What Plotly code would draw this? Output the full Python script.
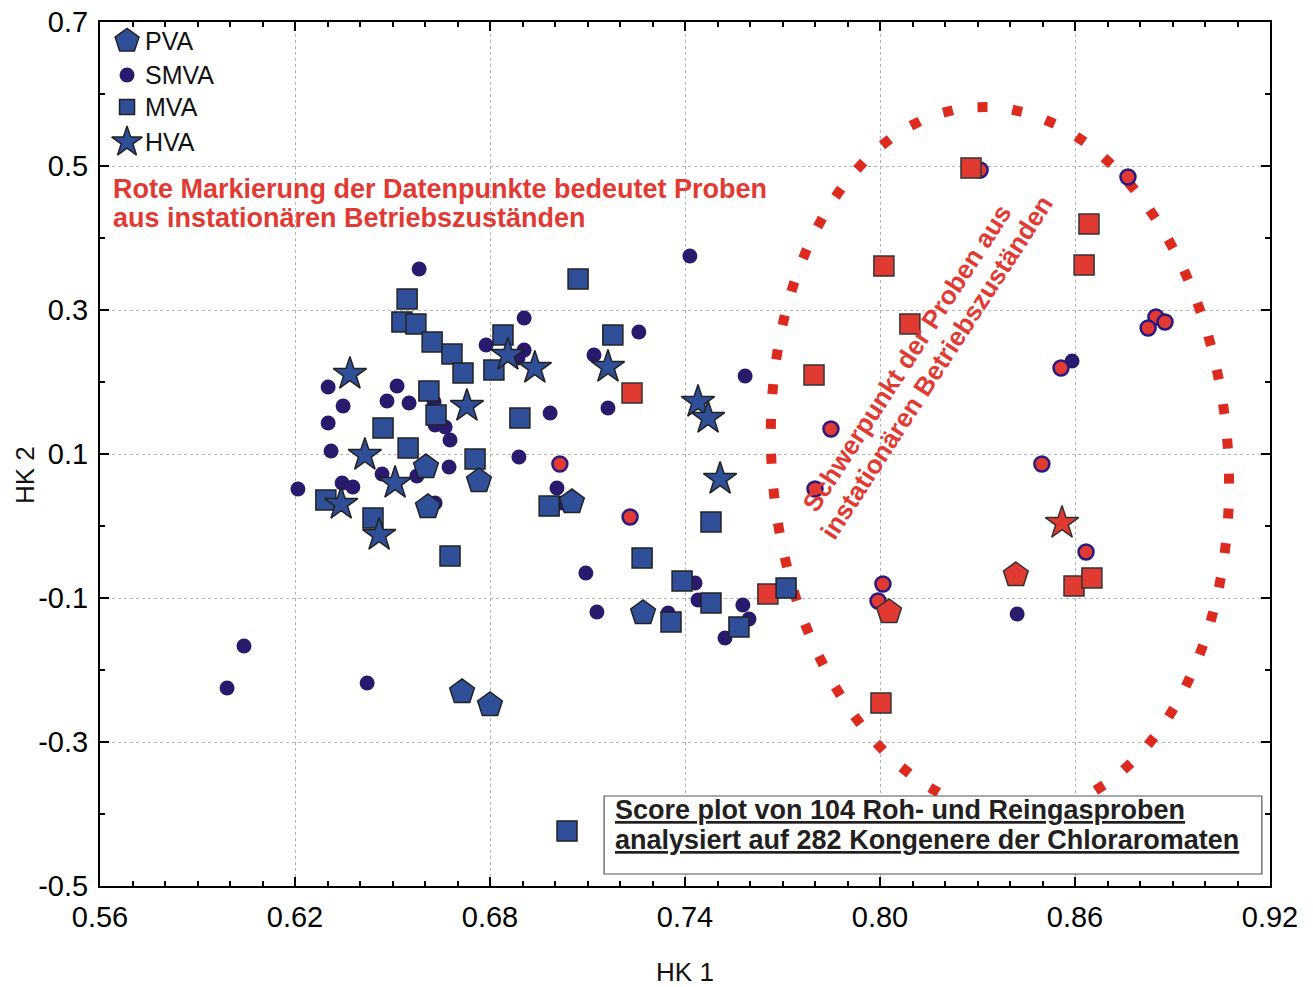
import numpy as np
import plotly.graph_objects as go

# ---------------- data (HK 1, HK 2) ----------------
smva_x = [0.6582, 0.6905, 0.6788, 0.6905, 0.6886, 0.6302, 0.6514, 0.6348, 0.6483, 0.6551,
          0.6302, 0.6628, 0.6631, 0.6662, 0.6677, 0.6311, 0.6889, 0.6985, 0.6674, 0.6468,
          0.6575, 0.6345, 0.6378, 0.6209, 0.6631, 0.7006, 0.7022, 0.7415, 0.7258, 0.7120,
          0.7585, 0.7163, 0.7095, 0.7431, 0.7440, 0.7129, 0.7348, 0.7578, 0.7597, 0.7523,
          0.6043, 0.5991, 0.6422, 0.8591, 0.8422]
smva_y = [0.3569, 0.2889, 0.2514, 0.2444, 0.2333, 0.1931, 0.1944, 0.1667, 0.1736, 0.1708,
          0.1431, 0.1722, 0.1403, 0.1375, 0.1194, 0.1042, 0.0958, 0.1569, 0.0819, 0.0722,
          0.0694, 0.0597, 0.0542, 0.0514, 0.0319, 0.0528, 0.0319, 0.3750, 0.2694, 0.2375,
          0.2083, 0.1639, -0.0653, -0.0792, -0.1028, -0.1194, -0.1208, -0.1097, -0.1292, -0.1556,
          -0.1667, -0.2250, -0.2181, 0.2292, -0.1222]
smva_red_x = [0.8308, 0.8763, 0.8849, 0.8877, 0.8825, 0.8557, 0.7849, 0.8498, 0.7800, 0.7015,
              0.7231, 0.8634, 0.8009, 0.7994]
smva_red_y = [0.4944, 0.4847, 0.2903, 0.2833, 0.2750, 0.2194, 0.1347, 0.0861, 0.0514, 0.0861,
              0.0125, -0.0361, -0.0806, -0.1042]

mva_x = [0.6545, 0.6529, 0.6572, 0.6622, 0.6683, 0.6717, 0.6840, 0.6812, 0.6612, 0.6634,
         0.6471, 0.6548, 0.6754, 0.6892, 0.7071, 0.6295, 0.6440, 0.6677, 0.6982, 0.7178,
         0.7480, 0.7268, 0.7391, 0.7480, 0.7357, 0.7566, 0.7711, 0.7037]
mva_y = [0.3153, 0.2833, 0.2806, 0.2556, 0.2389, 0.2125, 0.2653, 0.2167, 0.1875, 0.1542,
         0.1361, 0.1083, 0.0931, 0.1500, 0.3431, 0.0361, 0.0111, -0.0417, 0.0278, 0.2653,
         0.0056, -0.0444, -0.0764, -0.1069, -0.1333, -0.1403, -0.0861, -0.4236]
mva_red_x = [0.8280, 0.8643, 0.8012, 0.8628, 0.8092, 0.7797, 0.7237, 0.7655, 0.8597, 0.8652, 0.8003]
mva_red_y = [0.4972, 0.4194, 0.3611, 0.3625, 0.2806, 0.2097, 0.1847, -0.0944, -0.0833, -0.0722, -0.2458]

pva_x = [0.6603, 0.6766, 0.6609, 0.7052, 0.7271, 0.6714, 0.6800]
pva_y = [0.0819, 0.0625, 0.0264, 0.0333, -0.1208, -0.2306, -0.2486]
pva_red_x = [0.8418, 0.8028]
pva_red_y = [-0.0681, -0.1194]

hva_x = [0.6369, 0.6855, 0.6938, 0.6729, 0.6415, 0.6508, 0.6342, 0.6459, 0.7163, 0.7440, 0.7471, 0.7508]
hva_y = [0.2111, 0.2375, 0.2194, 0.1667, 0.0986, 0.0597, 0.0306, -0.0125, 0.2208, 0.1722, 0.1500, 0.0653]
hva_red_x = [0.8560]
hva_red_y = [0.0042]

x_ticks = [0.56, 0.62, 0.68, 0.74, 0.80, 0.86, 0.92]
x_ticktext = ["0.56", "0.62", "0.68", "0.74", "0.80", "0.86", "0.92"]
y_ticks = [-0.5, -0.3, -0.1, 0.1, 0.3, 0.5, 0.7]
y_ticktext = ["-0.5", "-0.3", "-0.1", "0.1", "0.3", "0.5", "0.7"]

legend_labels = ["PVA", "SMVA", "MVA", "HVA"]

# ---------------- style ----------------
BLUE = "#2f4f98"
NAVY = "#2a1a6e"
RED = "#e03a33"
DOT_RED = "#dd2a1e"
EDGE = "#222222"
FONT = "Liberation Sans, Arial, sans-serif"

fig = go.Figure()

def add(x, y, symbol, size, color, lcolor, lwidth):
    fig.add_trace(go.Scatter(
        x=x, y=y, mode="markers", showlegend=False, hoverinfo="skip",
        marker=dict(symbol=symbol, size=size, color=color,
                    line=dict(color=lcolor, width=lwidth))))

# decorative dotted ellipse ("Schwerpunkt")
cx, cy = 0.8369, 0.0917
ea, ec, ed = 0.0705, -0.0347, 0.4889
PX, PY = 3250.0, 720.0
t = np.linspace(-np.pi / 2, 1.5 * np.pi, 4001)
ex = cx + ea * np.cos(t)
ey = cy + ec * np.cos(t) + ed * np.sin(t)
sx, sy = ex * PX, -ey * PY
seg = np.hypot(np.diff(sx), np.diff(sy))
cum = np.concatenate([[0], np.cumsum(seg)])
ndots = 53
targets = np.linspace(0, cum[-1], ndots, endpoint=False)
tt = np.interp(targets, cum, t)
dx_ = cx + ea * np.cos(tt)
dy_ = cy + ec * np.cos(tt) + ed * np.sin(tt)
ang = np.degrees(np.arctan2(-(-ec * np.sin(tt) + ed * np.cos(tt)) * PY, -ea * np.sin(tt) * PX))
fig.add_trace(go.Scatter(x=dx_, y=dy_, mode="markers", showlegend=False, hoverinfo="skip",
                         marker=dict(symbol="square", size=10, color=DOT_RED, angle=ang,
                                     line=dict(width=0))))

add(smva_x, smva_y, "circle", 15, NAVY, NAVY, 0)
add(smva_red_x, smva_red_y, "circle", 15, RED, "#2a1a80", 2.5)
add(mva_red_x, mva_red_y, "square", 20, RED, "#333333", 1.5)
add(mva_x, mva_y, "square", 20, BLUE, EDGE, 1.5)
add(pva_x, pva_y, "pentagon", 26, BLUE, EDGE, 1.5)
add(pva_red_x, pva_red_y, "pentagon", 26, RED, "#333333", 1.5)
add(hva_x, hva_y, "star", 25, BLUE, EDGE, 1.5)
add(hva_red_x, hva_red_y, "star", 25, RED, "#333333", 1.5)

# manual legend on an overlay axis (large symbols)
leg_y = [0.978, 0.9387, 0.9016, 0.8611]
leg_sym = ["pentagon", "circle", "square", "star"]
leg_size = [25, 15, 15, 23]
leg_col = [BLUE, NAVY, BLUE, BLUE]
leg_lw = [1.5, 0, 1.5, 1.5]
for yy, sym, sz, col, lw in zip(leg_y, leg_sym, leg_size, leg_col, leg_lw):
    fig.add_trace(go.Scatter(x=[0.0231], y=[yy], xaxis="x2", yaxis="y2", mode="markers",
                             showlegend=False, hoverinfo="skip",
                             marker=dict(symbol=sym, size=sz, color=col,
                                         line=dict(color=EDGE if lw else col, width=lw))))

annotations = []
for lab, yy in zip(legend_labels, leg_y):
    annotations.append(dict(x=0.0368, y=yy, xref="paper", yref="paper", text=lab,
                            showarrow=False, xanchor="left", yanchor="middle",
                            font=dict(family=FONT, size=25, color="#111111")))

annotations += [
    dict(x=-0.0641, y=0.4757, xref="paper", yref="paper", xanchor="center", yanchor="middle",
         showarrow=False, textangle=-90, text="HK 2",
         font=dict(family=FONT, size=26, color="#111111")),
    dict(x=0.5634, y=0.4681, xref="x", yref="y", xanchor="left", yanchor="middle", showarrow=False,
         text="<b>Rote Markierung der Datenpunkte bedeutet Proben</b>",
         font=dict(family=FONT, size=27, color=RED)),
    dict(x=0.5634, y=0.4278, xref="x", yref="y", xanchor="left", yanchor="middle", showarrow=False,
         text="<b>aus instationären Betriebszuständen</b>",
         font=dict(family=FONT, size=27, color=RED)),
    dict(x=0.8083, y=0.2333, xref="x", yref="y", xanchor="center", yanchor="middle", showarrow=False,
         textangle=-57, text="<b>Schwerpunkt der Proben aus</b>",
         font=dict(family=FONT, size=26, color=RED)),
    dict(x=0.8175, y=0.2208, xref="x", yref="y", xanchor="center", yanchor="middle", showarrow=False,
         textangle=-57, text="<b>instationären Betriebszuständen</b>",
         font=dict(family=FONT, size=26, color=RED)),
    dict(x=0.7179, y=-0.3944, xref="x", yref="y", xanchor="left", yanchor="middle", showarrow=False,
         text="<b><u>Score plot von 104 Roh- und Reingasproben</u></b>",
         font=dict(family=FONT, size=27, color="#231f20")),
    dict(x=0.7179, y=-0.4361, xref="x", yref="y", xanchor="left", yanchor="middle", showarrow=False,
         text="<b><u>analysiert auf 282 Kongenere der Chloraromaten</u></b>",
         font=dict(family=FONT, size=27, color="#231f20")),
]

shapes = [dict(type="rect", xref="x", yref="y", x0=0.7151, x1=0.9175, y0=-0.375, y1=-0.4833,
               fillcolor="white", line=dict(color="#555555", width=1.2), layer="above")]

axis_common = dict(showline=True, linecolor="black", linewidth=2, mirror="ticks",
                   ticks="inside", ticklen=9, tickwidth=1.5, tickcolor="black",
                   showgrid=True, gridcolor="#b5b5b5", griddash="dot", gridwidth=1,
                   zeroline=False, automargin=False, ticklabeloverflow="allow",
                   tickfont=dict(family=FONT, size=29, color="black"))

fig.update_layout(
    width=1313, height=987,
    margin=dict(l=100, r=43, t=22, b=101),
    paper_bgcolor="white", plot_bgcolor="white",
    showlegend=False,
    xaxis=dict(range=[0.56, 0.92], tickvals=x_ticks, ticktext=x_ticktext,
               minor=dict(dtick=0.01, tick0=0.56, ticks="inside", ticklen=5, tickcolor="black", showgrid=False),
               title=dict(text="HK 1", font=dict(family=FONT, size=26, color="#111111"), standoff=32),
               ticklabelstandoff=4,
               **axis_common),
    yaxis=dict(range=[-0.5, 0.7], tickvals=y_ticks, ticktext=y_ticktext,
               minor=dict(dtick=0.1, tick0=-0.5, ticks="inside", ticklen=5, tickcolor="black", showgrid=False),
               ticklabelstandoff=4,
               **axis_common),
    xaxis2=dict(overlaying="x", range=[0, 1], visible=False),
    yaxis2=dict(overlaying="y", range=[0, 1], visible=False),
    annotations=annotations,
    shapes=shapes,
)

# remove the default 8px page margin so the figure sits at the window's corner
fig.write_html("out.html", config={"displayModeBar": False},
               post_script="document.body.style.margin='0';")
